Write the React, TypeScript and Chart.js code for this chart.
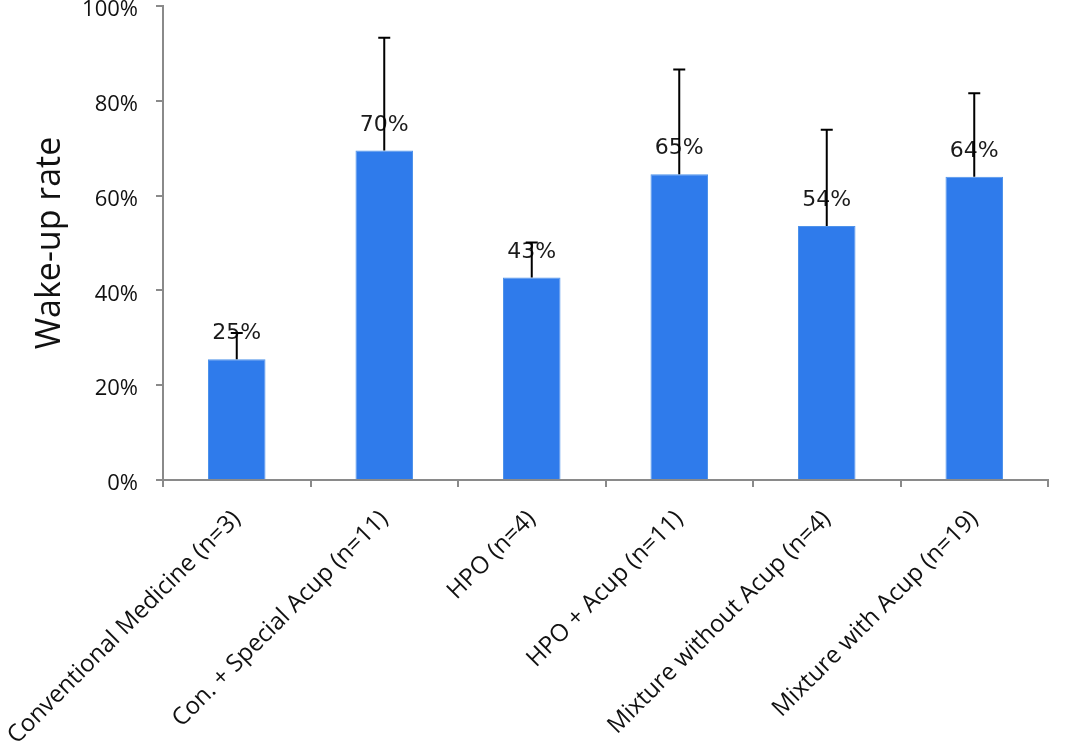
import React, { useEffect, useRef } from 'react';
import { Chart, registerables } from 'chart.js';

Chart.register(...registerables);

const categories = [
  'Conventional Medicine (n=3)',
  'Con. + Special Acup (n=11)',
  'HPO (n=4)',
  'HPO + Acup (n=11)',
  'Mixture without Acup (n=4)',
  'Mixture with Acup (n=19)',
];
const wakeUpRate = [25.5, 69.5, 42.7, 64.5, 53.6, 64];
const errorUp = [5.5, 23.8, 7.4, 22.1, 20.3, 17.6];
const valueLabels = ['25%', '70%', '43%', '65%', '54%', '64%'];
const yTicks = [0, 20, 40, 60, 80, 100];

const barColor = '#2f7beb';
const axisColor = '#8a8a8a';

const annotatePlugin = {
  id: 'annotate',
  afterDatasetsDraw(chart: any) {
    const { ctx, scales } = chart;
    const meta = chart.getDatasetMeta(0);
    ctx.save();
    meta.data.forEach((bar: any, i: number) => {
      const x = bar.x;
      const top = scales.y.getPixelForValue(wakeUpRate[i]);
      // value label
      ctx.fillStyle = '#1a1a1a';
      ctx.font = '22px "DejaVu Sans"';
      ctx.textAlign = 'center';
      ctx.textBaseline = 'alphabetic';
      ctx.fillText(valueLabels[i], x, top - 20);
      // error bar (upper only)
      const errY = scales.y.getPixelForValue(wakeUpRate[i] + errorUp[i]);
      ctx.strokeStyle = '#000';
      ctx.lineWidth = 2;
      ctx.beginPath();
      ctx.moveTo(x, top);
      ctx.lineTo(x, errY);
      ctx.moveTo(x - 6, errY);
      ctx.lineTo(x + 6, errY);
      ctx.stroke();
    });
    ctx.restore();
  },
};

const App = () => {
  const canvasRef = useRef<HTMLCanvasElement>(null);

  useEffect(() => {
    document.body.style.margin = '0';
    if (!canvasRef.current) return;

    const chart = new Chart(canvasRef.current, {
      type: 'bar',
      data: {
        labels: categories,
        datasets: [
          {
            data: wakeUpRate,
            backgroundColor: barColor,
            borderColor: '#4f93ea',
            borderWidth: 1,
            barPercentage: 0.39,
            categoryPercentage: 1,
          },
        ],
      },
      options: {
        animation: false,
        responsive: false,
        devicePixelRatio: 1,
        layout: { padding: { left: 0, right: 19, top: 6, bottom: 0 } },
        plugins: {
          legend: { display: false },
          tooltip: { enabled: false },
        },
        scales: {
          x: {
            border: { color: axisColor, width: 2 },
            grid: { drawOnChartArea: false, drawTicks: true, tickLength: 7, color: axisColor, lineWidth: 2, offset: true },
            ticks: {
              autoSkip: false,
              minRotation: 45,
              maxRotation: 45,
              padding: 18,
              color: '#111',
              font: { family: '"Open Sans"', size: 24 },
            },
            afterFit: (scale: any) => {
              scale.height = 274;
              scale.paddingLeft = 0;
              scale.paddingRight = 0;
            },
          },
          y: {
            min: 0,
            max: 100,
            border: { color: axisColor, width: 2 },
            grid: { drawOnChartArea: false, drawTicks: true, tickLength: 7, color: axisColor, lineWidth: 2 },
            afterBuildTicks: (scale: any) => {
              scale.ticks = yTicks.map((v) => ({ value: v }));
            },
            ticks: {
              padding: 18,
              labelOffset: 4,
              color: '#111',
              font: { family: '"Open Sans"', size: 22 },
              callback: (v: any) => v + '%',
            },
            title: {
              display: true,
              text: 'Wake-up rate',
              color: '#111',
              font: { family: '"Open Sans"', size: 34 },
              padding: { top: 30, bottom: 0 },
            },
            afterFit: (scale: any) => {
              scale.width = 163;
              scale.paddingTop = 6;
              scale.paddingBottom = 0;
            },
          },
        },
      },
      plugins: [annotatePlugin],
    });

    return () => {
      chart.destroy();
    };
  }, []);

  return (
    <div style={{ width: 1067, height: 754, background: '#fff' }}>
      <canvas ref={canvasRef} width={1067} height={754}></canvas>
    </div>
  );
};

export default App;
